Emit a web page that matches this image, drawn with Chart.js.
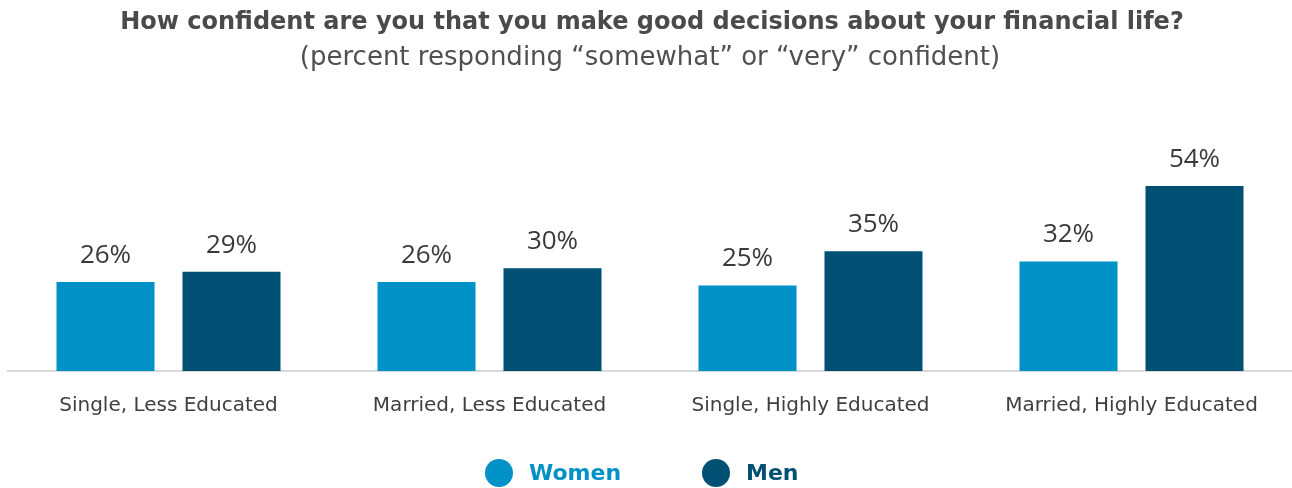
<!DOCTYPE html>
<html>
<head>
<meta charset="utf-8">
<script src="https://cdn.jsdelivr.net/npm/chart.js@4.4.1/dist/chart.umd.min.js"></script>
<style>
  html, body { margin: 0; padding: 0; background: #ffffff; }
  #wrap { width: 1292px; height: 488px; }
</style>
</head>
<body>
<div id="wrap"><canvas id="chart" width="1292" height="488"></canvas></div>
<script>
// Survey groups and the share of each group answering "somewhat" or "very" confident
const categories = [
  "Single, Less Educated",
  "Married, Less Educated",
  "Single, Highly Educated",
  "Married, Highly Educated"
];
const women = [26, 26, 25, 32];
const men = [29, 30, 35, 54];
const seriesNames = ["Women", "Men"];
const titleText = "How confident are you that you make good decisions about your financial life?";
const subtitleText = "(percent responding \u201csomewhat\u201d or \u201cvery\u201d confident)";

const COLORS = ["#0092c7", "#005073"];
const FONT = "'DejaVu Sans', 'Open Sans', sans-serif";
const VALUE_FONT = "'Open Sans', 'DejaVu Sans', sans-serif";

// Title, subtitle, value labels above bars and the round legend
const decorations = {
  id: "decorations",
  afterDatasetsDraw(chart) {
    const ctx = chart.ctx;
    ctx.save();
    ctx.fillStyle = "#3a3a3a";
    ctx.font = "26px " + VALUE_FONT;
    ctx.textAlign = "center";
    ctx.textBaseline = "alphabetic";
    chart.data.datasets.forEach((ds, i) => {
      const meta = chart.getDatasetMeta(i);
      meta.data.forEach((bar, j) => {
        ctx.fillText(ds.data[j] + "%", bar.x, bar.y - 19);
      });
    });
    ctx.restore();
  },
  afterDraw(chart) {
    const ctx = chart.ctx;
    ctx.save();
    ctx.textAlign = "center";
    ctx.textBaseline = "middle";
    ctx.fillStyle = "#4a4a4a";
    ctx.font = "bold 24px " + FONT;
    ctx.fillText(titleText, 652, 23);
    ctx.fillStyle = "#505050";
    ctx.font = "26px " + FONT;
    ctx.fillText(subtitleText, 650, 58);

    // legend
    const starts = [485, 702];
    ctx.textAlign = "left";
    ctx.font = "bold 22px " + FONT;
    chart.data.datasets.forEach((ds, i) => {
      const x = starts[i];
      ctx.fillStyle = ds.backgroundColor;
      ctx.beginPath();
      ctx.arc(x + 14, 473, 14, 0, Math.PI * 2);
      ctx.fill();
      ctx.fillText(ds.label, x + 44, 474);
    });
    ctx.restore();
  }
};

new Chart(document.getElementById("chart"), {
  type: "bar",
  data: {
    labels: categories,
    datasets: [
      { label: seriesNames[0], data: women, backgroundColor: COLORS[0] },
      { label: seriesNames[1], data: men, backgroundColor: COLORS[1] }
    ]
  },
  options: {
    responsive: false,
    animation: false,
    devicePixelRatio: 1,
    layout: { padding: { top: 97, left: 8, right: 0, bottom: 47 } },
    datasets: {
      bar: { categoryPercentage: 0.785, barPercentage: 0.778 }
    },
    plugins: {
      legend: { display: false },
      title: { display: false },
      tooltip: { enabled: false }
    },
    scales: {
      x: {
        grid: { display: false, drawTicks: false },
        border: { display: true, color: "#d9d9d9", width: 2 },
        ticks: {
          padding: 23,
          color: "#404040",
          font: { family: FONT, size: 20 }
        }
      },
      y: {
        display: false,
        min: 0,
        max: 80
      }
    }
  },
  plugins: [decorations]
});
</script>
</body>
</html>
